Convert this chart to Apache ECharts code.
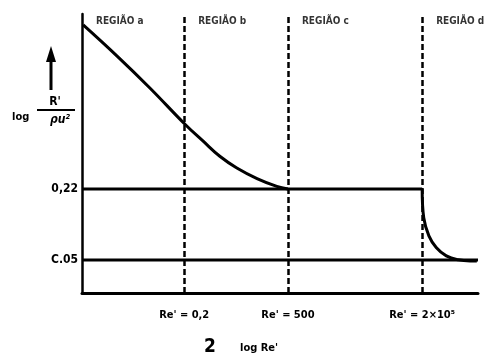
<!DOCTYPE html>
<html>
<head>
<meta charset="utf-8">
<script src="https://cdn.jsdelivr.net/npm/echarts@6/dist/echarts.min.js"></script>
<style>
html, body { margin: 0; padding: 0; background: #fff; }
#chart { width: 499px; height: 358px; }
</style>
</head>
<body>
<div id="chart"></div>
<script>
// schematic units: x and y both run 0..100 across the plot
var regionNames = ['REGIÃO a', 'REGIÃO b', 'REGIÃO c', 'REGIÃO d'];
var regionStart = [0, 25.8, 52, 85.9];
var regionLabelY = 97.5;
var boundLabels = ["Re' = 0,2", "Re' = 500", "Re' = 2×10⁵"];
var boundX = [25.8, 52, 85.9];

var levelNames = ['C.05', '0,22'];
var levelY = [11.8, 37.3];

// regions a + b : falling curve down to the 0,22 level
var curveAbX = [0.3, 8.8, 17.2, 26.0, 30.6, 34.8, 39.1, 44.2, 49.2, 52.0];
var curveAbY = [96.1, 85.0, 73.4, 60.5, 54.4, 49.0, 44.8, 41.0, 38.2, 37.3];

// region d : drop from 0,22 towards 0,05
var curveDX = [85.9, 86.3, 87.6, 89.5, 92.0, 95.0, 98.0, 99.7];
var curveDY = [37.3, 27.0, 20.5, 16.2, 13.3, 11.9, 11.5, 11.5];

var font = '"Liberation Sans Narrow", "DejaVu Sans Condensed", "DejaVu Sans", sans-serif';

function pairs(xs, ys) {
  return xs.map(function (x, i) { return [x, ys[i]]; });
}

var chart = echarts.init(document.getElementById('chart'));

var option = {
  backgroundColor: '#fff',
  animation: false,
  grid: { left: 82, right: 21, top: 14, bottom: 65 },
  xAxis: {
    type: 'value', min: 0, max: 100,
    axisLine: { lineStyle: { color: '#000', width: 3 } },
    axisTick: { show: false },
    splitLine: { show: false },
    axisLabel: {
      customValues: boundX,
      margin: 17,
      color: '#000',
      fontFamily: font,
      fontWeight: 'bold',
      fontSize: 11,
      formatter: function (v) {
        var i = boundX.indexOf(v);
        return i >= 0 ? boundLabels[i] : '';
      }
    }
  },
  yAxis: {
    type: 'value', min: 0, max: 100,
    axisLine: { show: true, lineStyle: { color: '#000', width: 2.5 } },
    axisTick: { show: false },
    splitLine: { show: false },
    axisLabel: {
      customValues: levelY,
      margin: 4,
      color: '#000',
      fontFamily: font,
      fontWeight: 'bold',
      fontSize: 12,
      formatter: function (v) {
        var i = levelY.indexOf(v);
        return i >= 0 ? levelNames[i] : '';
      }
    }
  },
  series: [
    {
      type: 'line',
      smooth: 0.4,
      symbol: 'none',
      lineStyle: { color: '#000', width: 3 },
      data: pairs(curveAbX, curveAbY),
      markLine: {
        silent: true,
        symbol: 'none',
        label: { show: false },
        lineStyle: { color: '#000', width: 2.5, type: [6, 3] },
        data: boundX.map(function (x) { return { xAxis: x }; })
      }
    },
    {
      type: 'line',
      symbol: 'none',
      lineStyle: { color: '#000', width: 3 },
      data: [[0, levelY[1]], [boundX[2], levelY[1]]]
    },
    {
      type: 'line',
      symbol: 'none',
      lineStyle: { color: '#000', width: 3 },
      data: [[0, levelY[0]], [100, levelY[0]]]
    },
    {
      type: 'line',
      smooth: 0.4,
      symbol: 'none',
      lineStyle: { color: '#000', width: 3 },
      data: pairs(curveDX, curveDY)
    },
    {
      type: 'scatter',
      symbolSize: 0,
      silent: true,
      label: {
        show: true,
        position: 'right',
        distance: 14,
        color: '#000',
        fontFamily: font,
        fontWeight: 'bold',
        fontSize: 10,
        formatter: function (p) { return regionNames[p.dataIndex]; }
      },
      data: regionStart.map(function (x) { return [x, regionLabelY]; })
    }
  ],
  graphic: [
    { type: 'line', shape: { x1: 51, y1: 90, x2: 51, y2: 60 }, style: { stroke: '#000', lineWidth: 3 } },
    { type: 'polygon', shape: { points: [[46, 62], [56, 62], [51, 46]] }, style: { fill: '#000' } },
    { type: 'text', x: 12, y: 117, style: { text: 'log', fill: '#000', font: 'bold 11px ' + font, verticalAlign: 'middle' } },
    { type: 'text', x: 55, y: 102, style: { text: "R'", fill: '#000', font: 'bold 12px ' + font, align: 'center', verticalAlign: 'middle' } },
    { type: 'line', shape: { x1: 37, y1: 110, x2: 75, y2: 110 }, style: { stroke: '#000', lineWidth: 2 } },
    { type: 'text', x: 60, y: 120, style: { text: 'ρu²', fill: '#000', font: 'bold italic 12px ' + font, align: 'center', verticalAlign: 'middle' } },
    { type: 'text', x: 210, y: 347, style: { text: '2', fill: '#000', font: 'bold 19px ' + font, align: 'center', verticalAlign: 'middle' } },
    { type: 'text', x: 240, y: 348, style: { text: "log Re'", fill: '#000', font: 'bold 11px ' + font, verticalAlign: 'middle' } }
  ]
};

chart.setOption(option);
</script>
</body>
</html>
